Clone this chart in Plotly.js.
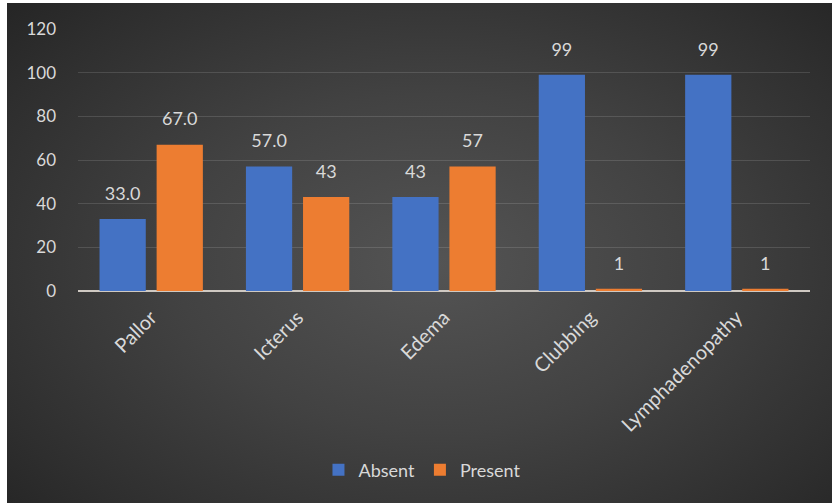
<!DOCTYPE html>
<html>
<head>
<meta charset="utf-8">
<script src="https://cdn.plot.ly/plotly-3.0.1.min.js"></script>
<style>
  html, body { margin: 0; padding: 0; background: #ffffff; width: 832px; height: 503px; overflow: hidden; }
  #chart {
    position: absolute; left: 7px; top: 3px; width: 825px; height: 500px;
    background: radial-gradient(ellipse 70% 75% at 52% 52%, #545454 0%, #424242 45%, #2e2e2e 85%, #262626 100%);
  }
</style>
</head>
<body>
<div id="chart"></div>
<script>
const categories = ["Pallor", "Icterus", "Edema", "Clubbing", "Lymphadenopathy"];
const absentValues = [33, 57, 43, 99, 99];
const presentValues = [67, 43, 57, 1, 1];
const absentLabels = ["33.0", "57.0", "43", "99", "99"];
const presentLabels = ["67.0", "43", "57", "1", "1"];
const yTicks = [0, 20, 40, 60, 80, 100, 120];

const textColor = "#d9d9d9";
const fontFamily = "Lato, 'Open Sans', sans-serif";

function barTrace(name, values, color) {
  return {
    type: "bar", name: name, x: categories, y: values,
    marker: { color: color, line: { width: 0 } },
    hoverinfo: "x+y"
  };
}
function labelTrace(name, values, labels) {
  return {
    type: "scatter", mode: "markers+text", name: name + " labels",
    x: categories, y: values, text: labels,
    textposition: "top center", cliponaxis: false,
    textfont: { color: textColor, size: 18, family: fontFamily },
    marker: { size: 22, opacity: 0 },
    showlegend: false, hoverinfo: "skip"
  };
}

const traces = [
  barTrace("Absent", absentValues, "#4472c4"),
  barTrace("Present", presentValues, "#ed7d31"),
  labelTrace("Absent", absentValues, absentLabels),
  labelTrace("Present", presentValues, presentLabels)
];

const layout = {
  width: 825, height: 500,
  paper_bgcolor: "rgba(0,0,0,0)",
  plot_bgcolor: "rgba(0,0,0,0)",
  margin: { l: 71, r: 22, t: 26, b: 212, pad: 0 },
  font: { family: fontFamily, color: textColor, size: 18 },
  barmode: "group",
  bargap: 0.22,
  bargroupgap: 0.19,
  scattermode: "group",
  scattergap: 0.22,
  showlegend: true,
  legend: {
    orientation: "h", xref: "container", yref: "container",
    x: 0.503, xanchor: "center", y: 0.066, yanchor: "middle",
    font: { size: 18, color: textColor, family: fontFamily },
    itemwidth: 30, traceorder: "normal"
  },
  xaxis: {
    type: "category",
    tickangle: -45,
    showgrid: false,
    showline: false,
    zeroline: false,
    ticks: "",
    ticklabelstandoff: 10,
    tickfont: { size: 20, color: textColor, family: fontFamily }
  },
  yaxis: {
    range: [0, 120],
    tickvals: yTicks,
    ticktext: yTicks.map(String),
    showgrid: true,
    gridcolor: "rgba(255,255,255,0.13)",
    gridwidth: 1,
    zeroline: true,
    zerolinecolor: "#cfc9c2",
    zerolinewidth: 1.5,
    showline: false,
    ticks: "",
    ticklabelstandoff: 21,
    tickfont: { size: 17, color: textColor, family: fontFamily }
  }
};

Plotly.newPlot("chart", traces, layout, { displayModeBar: false, staticPlot: true });
</script>
</body>
</html>
